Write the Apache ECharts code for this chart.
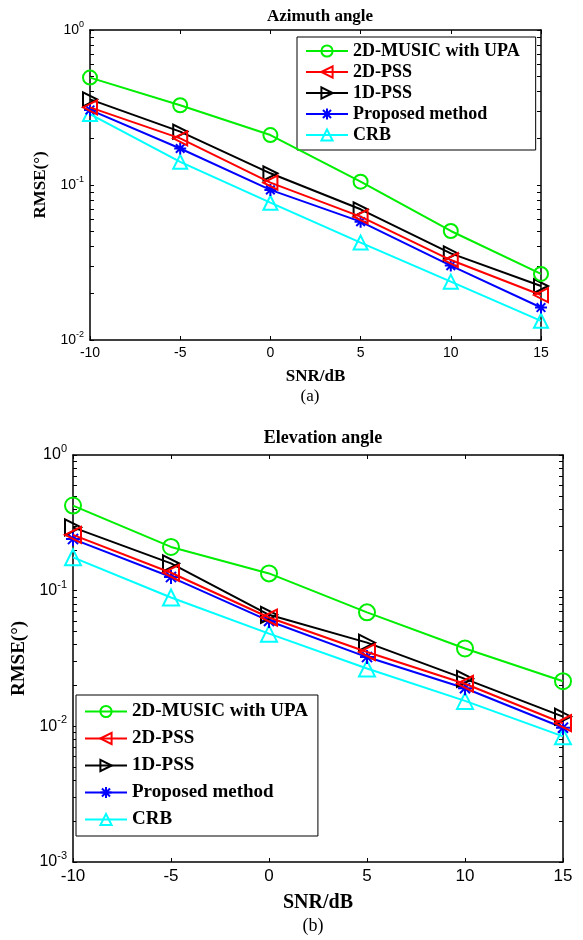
<!DOCTYPE html>
<html>
<head>
<meta charset="utf-8">
<script src="https://cdn.jsdelivr.net/npm/echarts@6/dist/echarts.min.js"></script>
<style>
html,body{margin:0;padding:0;background:#fff;}
#main{width:583px;height:940px;}
</style>
</head>
<body>
<div id="main"></div>
<script>
var snr = [-10, -5, 0, 5, 10, 15];
var names = ['2D-MUSIC with UPA', '2D-PSS', '1D-PSS', 'Proposed method', 'CRB'];

// azimuth (a)
var azMusic = [0.493, 0.327, 0.210, 0.105, 0.0505, 0.0267];
var azPss2 = [0.317, 0.200, 0.1035, 0.0625, 0.0328, 0.0195];
var azPss1 = [0.357, 0.221, 0.119, 0.0697, 0.0362, 0.0223];
var azProp = [0.305, 0.172, 0.093, 0.058, 0.0302, 0.0162];
var azCrb = [0.287, 0.141, 0.0769, 0.0425, 0.0238, 0.0133];

// elevation (b)
var elMusic = [0.424, 0.210, 0.134, 0.0692, 0.0375, 0.0215];
var elPss2 = [0.258, 0.1355, 0.0634, 0.0353, 0.0206, 0.01054];
var elPss1 = [0.293, 0.159, 0.0664, 0.0414, 0.0224, 0.01178];
var elProp = [0.240, 0.126, 0.0598, 0.0324, 0.0191, 0.00977];
var elCrb = [0.176, 0.089, 0.0482, 0.0267, 0.0154, 0.00844];

var xTicks = [-10, -5, 0, 5, 10, 15];

var colors = ['#00ee00', '#ff0000', '#000000', '#0000ff', '#00ffff'];
var star = 'path://M0,-5L0,5M-5,0L5,0M-3.6,-3.6L3.6,3.6M-3.6,3.6L3.6,-3.6';
var symbols = ['circle', 'triangle', 'triangle', star, 'triangle'];
var rotates = [0, 90, -90, 0, 0];

function logTicks(lo, hi){
	var out = [];
	for(var e = lo; e < hi; e++){
		for(var k = 1; k < 10; k++){
			out.push(+(k * Math.pow(10, e)).toPrecision(3));
		}
	}
	out.push(Math.pow(10, hi));
	return out;
}
function decades(lo, hi){
	var out = [];
	for(var e = lo; e <= hi; e++){ out.push(Math.pow(10, e)); }
	return out;
}

function makeSeries(data, gi, symSize){
	var res = [];
	for(var i = 0; i < data.length; i++){
		var pts = [];
		for(var j = 0; j < snr.length; j++){ pts.push([snr[j], data[i][j]]); }
		res.push({
			name: names[i],
			type: 'line',
			xAxisIndex: gi * 2,
			yAxisIndex: gi * 2,
			data: pts,
			symbol: symbols[i],
			symbolRotate: rotates[i],
			symbolSize: i == 3 ? symSize - 2 : symSize,
			showAllSymbol: true,
			lineStyle: {color: colors[i], width: 2},
			itemStyle: {color: 'rgba(255,255,255,0)', borderColor: colors[i], borderWidth: 2},
			emphasis: {disabled: true},
			animation: false,
			z: 10 - i
		});
	}
	return res;
}

function yAxes(gi, lo, hi, fs, gap){
	var base = {
		type: 'log', logBase: 10, gridIndex: gi,
		min: Math.pow(10, lo), max: Math.pow(10, hi),
		splitLine: {show: false},
		axisLine: {onZero: false, lineStyle: {color: '#000', width: 1.5}},
		axisTick: {inside: true, length: 4, customValues: logTicks(lo, hi), lineStyle: {color: '#000'}}
	};
	var left = echarts.util.merge({
		position: 'left',
		name: 'RMSE(°)', nameLocation: 'middle', nameGap: gap,
		nameTextStyle: {fontFamily: 'Liberation Serif', fontWeight: 'bold', fontSize: fs + 3, color: '#000'},
		axisLabel: {
			customValues: decades(lo, hi),
			margin: 6,
			formatter: function(v){ return '{b|10}{s|' + Math.round(Math.log10(v)) + '}'; },
			rich: {
				b: {fontFamily: 'Liberation Sans', fontSize: fs, color: '#000'},
				s: {fontFamily: 'Liberation Sans', fontSize: fs - 5, color: '#000', padding: [0, 0, fs - 4, 0]}
			}
		}
	}, base, true);
	var right = echarts.util.merge({position: 'right', axisLabel: {show: false}}, base, true);
	return [left, right];
}

function xAxes(gi, fs){
	var base = {
		type: 'value', gridIndex: gi, min: -10, max: 15, interval: 5,
		splitLine: {show: false},
		axisLine: {onZero: false, lineStyle: {color: '#000', width: 1.5}},
		axisTick: {inside: true, length: 4, lineStyle: {color: '#000'}}
	};
	var bottom = echarts.util.merge({
		position: 'bottom',
		name: 'SNR/dB', nameLocation: 'middle', nameGap: fs + 14,
		nameTextStyle: {fontFamily: 'Liberation Serif', fontWeight: 'bold', fontSize: fs + 3, color: '#000'},
		axisLabel: {fontFamily: 'Liberation Sans', fontSize: fs, color: '#000', margin: 6,
			customValues: xTicks}
	}, base, true);
	var top = echarts.util.merge({position: 'top', axisLabel: {show: false}}, base, true);
	return [bottom, top];
}

var chart = echarts.init(document.getElementById('main'), null, {renderer: 'canvas'});

var ya = yAxes(0, -2, 0, 14, 33), yb = yAxes(1, -3, 0, 16, 40);
var xa = xAxes(0, 14), xb = xAxes(1, 17);

var legendBase = {
	orient: 'vertical',
	backgroundColor: '#fff',
	borderColor: '#000',
	borderWidth: 1,
	itemWidth: 42,
	itemHeight: 14,
	data: names
};

var option = {
	backgroundColor: '#fff',
	animation: false,
	title: [
		{text: 'Azimuth angle', left: 315, top: 3, textAlign: 'center',
			textStyle: {fontFamily: 'Liberation Serif', fontWeight: 'bold', fontSize: 17, color: '#000'}},
		{text: '(a)', left: 305, top: 383, textAlign: 'center',
			textStyle: {fontFamily: 'Liberation Serif', fontWeight: 'normal', fontSize: 17, color: '#000'}},
		{text: 'Elevation angle', left: 318, top: 424, textAlign: 'center',
			textStyle: {fontFamily: 'Liberation Serif', fontWeight: 'bold', fontSize: 18, color: '#000'}},
		{text: '(b)', left: 308, top: 912, textAlign: 'center',
			textStyle: {fontFamily: 'Liberation Serif', fontWeight: 'normal', fontSize: 18, color: '#000'}}
	],
	legend: [
		echarts.util.merge({left: 297, top: 37, padding: [5, 16, 6, 8], itemGap: 3,
			textStyle: {fontFamily: 'Liberation Serif', fontWeight: 'bold', fontSize: 18, color: '#000'}}, legendBase, true),
		echarts.util.merge({left: 76, top: 695, padding: [7, 10, 7, 8], itemGap: 8,
			textStyle: {fontFamily: 'Liberation Serif', fontWeight: 'bold', fontSize: 19, color: '#000'}}, legendBase, true)
	],
	grid: [
		{left: 90, top: 30, width: 451, height: 310},
		{left: 73, top: 455, width: 490, height: 407}
	],
	xAxis: [xa[0], xa[1], xb[0], xb[1]],
	yAxis: [ya[0], ya[1], yb[0], yb[1]],
	series: makeSeries([azMusic, azPss2, azPss1, azProp, azCrb], 0, 14)
		.concat(makeSeries([elMusic, elPss2, elPss1, elProp, elCrb], 1, 16))
};
chart.setOption(option);
</script>
</body>
</html>
